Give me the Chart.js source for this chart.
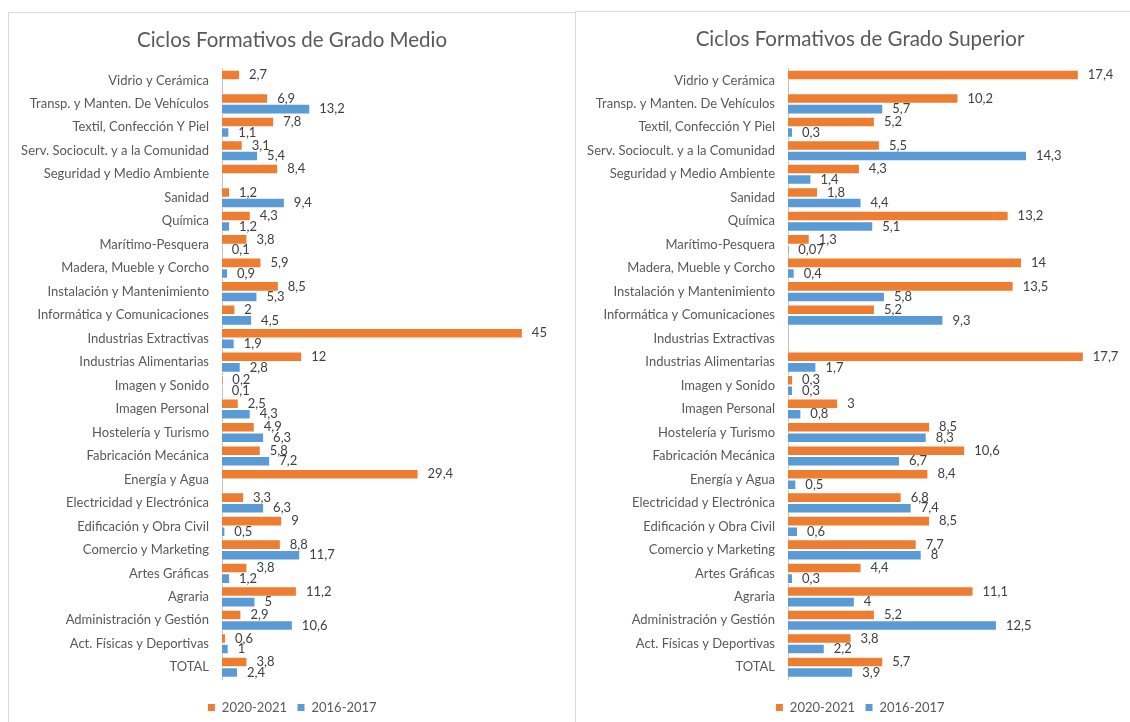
<!DOCTYPE html>
<html>
<head>
<meta charset="utf-8">
<script src="https://cdn.jsdelivr.net/npm/chart.js@4/dist/chart.umd.min.js"></script>
<style>
  html, body { margin: 0; padding: 0; background: #fff; overflow: hidden; }
  .panel { position: absolute; border: 1px solid #d9d9d9; background: #fff; }
  #medio { left: 8px; top: 12px; width: 566px; height: 720px; }
  #superior { left: 575px; top: 11px; width: 570px; height: 720px; border-right: none; }
</style>
</head>
<body>
<div class="panel" id="medio"><canvas id="chartMedio" width="566" height="711"></canvas></div>
<div class="panel" id="superior"><canvas id="chartSuperior" width="568" height="712"></canvas></div>
<script>
const categories = [
  'Vidrio y Cerámica', 'Transp. y Manten. De Vehículos', 'Textil, Confección Y Piel',
  'Serv. Sociocult. y a la Comunidad', 'Seguridad y Medio Ambiente', 'Sanidad', 'Química',
  'Marítimo-Pesquera', 'Madera, Mueble y Corcho', 'Instalación y Mantenimiento',
  'Informática y Comunicaciones', 'Industrias Extractivas', 'Industrias Alimentarias',
  'Imagen y Sonido', 'Imagen Personal', 'Hostelería y Turismo', 'Fabricación Mecánica',
  'Energía y Agua', 'Electricidad y Electrónica', 'Edificación y Obra Civil',
  'Comercio y Marketing', 'Artes Gráficas', 'Agraria', 'Administración y Gestión',
  'Act. Físicas y Deportivas', 'TOTAL'
];
const seriesNames = ['2020-2021', '2016-2017'];

// Grado Medio
const medio2021 = [2.7, 6.9, 7.8, 3.1, 8.4, 1.2, 4.3, 3.8, 5.9, 8.5, 2, 45, 12, 0.2, 2.5, 4.9, 5.8, 29.4, 3.3, 9, 8.8, 3.8, 11.2, 2.9, 0.6, 3.8];
const medio2017 = [null, 13.2, 1.1, 5.4, null, 9.4, 1.2, 0.1, 0.9, 5.3, 4.5, 1.9, 2.8, 0.1, 4.3, 6.3, 7.2, null, 6.3, 0.5, 11.7, 1.2, 5, 10.6, 1, 2.4];

// Grado Superior
const superior2021 = [17.4, 10.2, 5.2, 5.5, 4.3, 1.8, 13.2, 1.3, 14, 13.5, 5.2, null, 17.7, 0.3, 3, 8.5, 10.6, 8.4, 6.8, 8.5, 7.7, 4.4, 11.1, 5.2, 3.8, 5.7];
const superior2017 = [null, 5.7, 0.3, 14.3, 1.4, 4.4, 5.1, 0.07, 0.4, 5.8, 9.3, null, 1.7, 0.3, 0.8, 8.3, 6.7, 0.5, 7.4, 0.6, 8, 0.3, 4, 12.5, 2.2, 3.9];

const ORANGE = '#ED7D31';
const BLUE = '#5B9BD5';
const FONT = 'Lato, "Liberation Sans", sans-serif';

const barLabels = {
  id: 'barLabels',
  afterDatasetsDraw(chart) {
    const ctx = chart.ctx;
    ctx.save();
    ctx.font = '13px ' + FONT;
    ctx.fillStyle = '#404040';
    ctx.textAlign = 'left';
    ctx.textBaseline = 'middle';
    chart.data.datasets.forEach((ds, i) => {
      chart.getDatasetMeta(i).data.forEach((bar, j) => {
        const v = ds.data[j];
        if (v === null || v === undefined) return;
        ctx.fillText(String(v).replace('.', ','), bar.x + 9, bar.y);
      });
    });
    ctx.restore();
  }
};

function makeChart(id, title, a, b, xMax, axisX, titleBottom) {
  return new Chart(document.getElementById(id), {
    type: 'bar',
    data: {
      labels: categories,
      datasets: [
        { label: seriesNames[0], data: a, backgroundColor: ORANGE, borderColor: '#fff', borderWidth: 1 },
        { label: seriesNames[1], data: b, backgroundColor: BLUE, borderColor: '#fff', borderWidth: 1 }
      ]
    },
    options: {
      indexAxis: 'y',
      responsive: false,
      animation: false,
      layout: { padding: 0 },
      datasets: { bar: { categoryPercentage: 0.9, barPercentage: 1 } },
      scales: {
        x: {
          min: 0, max: xMax,
          grid: { display: false },
          border: { display: false },
          ticks: { display: false },
          afterFit(s) { s.height = 12; }
        },
        y: {
          grid: { display: false, drawTicks: false },
          border: { display: true, color: '#bfbfbf', width: 1 },
          ticks: { autoSkip: false, padding: 13, color: '#595959', font: { family: FONT, size: 13 } },
          afterFit(s) { s.width = axisX; }
        }
      },
      plugins: {
        title: {
          display: true, text: title, color: '#595959',
          font: { family: FONT, size: 20.5, weight: 'normal' },
          padding: { top: 15, bottom: titleBottom }
        },
        legend: {
          position: 'bottom',
          labels: { boxWidth: 8, boxHeight: 8, padding: 10, color: '#595959', font: { family: FONT, size: 13 } }
        },
        tooltip: { enabled: false }
      }
    },
    plugins: [barLabels]
  });
}

makeChart('chartMedio', 'Ciclos Formativos de Grado Medio', medio2021, medio2017, 52.8, 213, 16);
makeChart('chartSuperior', 'Ciclos Formativos de Grado Superior', superior2021, superior2017, 21.3, 212, 17);
</script>
</body>
</html>
